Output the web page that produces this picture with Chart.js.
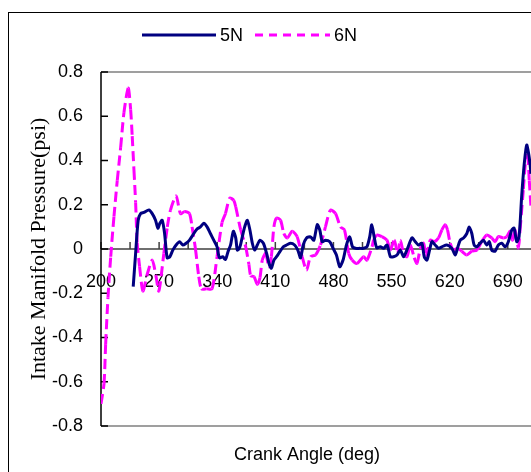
<!DOCTYPE html>
<html>
<head>
<meta charset="utf-8">
<script src="https://cdn.jsdelivr.net/npm/chart.js@4.4.1/dist/chart.umd.min.js"></script>
<style>
  html, body { margin: 0; padding: 0; background: #fff; overflow: hidden; }
  #frame { position: absolute; left: 8px; top: 12px; width: 600px; height: 500px;
           border-left: 1.5px solid #000; border-top: 1.5px solid #000; }
  #wrap { position: absolute; left: 0; top: 0; width: 531px; height: 472px; }
</style>
</head>
<body>
<div id="frame"></div>
<div id="wrap"><canvas id="chart"></canvas></div>
<script>
// Crank angle (deg) and intake manifold pressure (psi)
const angles5N = [238.8, 241.7, 244.8, 247.7, 251.7, 257.7, 261.7, 265.7, 268.5, 270.9,
  273.7, 276.6, 279.7, 282.9, 286.5, 290.5, 294.6, 298.6, 302.5, 306.6,
  310.6, 315.7, 319.8, 323.8, 327.8, 331.8, 335.8, 339.8, 342.7, 346.6,
  349.9, 353, 356.2, 359.4, 362.3, 364.3, 367.4, 370.2, 373.1, 376.3,
  379.4, 382.3, 385.1, 388.3, 391.5, 395.6, 399.5, 402.8, 405.2, 408.3,
  411.5, 415.5, 419.6, 423.6, 428.4, 433.2, 437.1, 440.4, 443.6, 447.6,
  452.4, 456.4, 460.5, 463.6, 466.5, 470.4, 475.6, 479.6, 483.6, 487.6,
  491.6, 495.7, 499.6, 502.9, 506.5, 511.6, 516.3, 520.4, 523.7, 526.2,
  529.3, 532.2, 536.5, 540.5, 544.6, 548.6, 552.4, 556.6, 560.6, 564.5,
  569.3, 574.6, 578.6, 582.6, 586.6, 589.4, 592.6, 595.8, 598.7, 602.6,
  606.6, 610.7, 616.7, 622.7, 626.7, 629.4, 632.7, 636.7, 640.7, 643.5,
  646.7, 649.5, 652.7, 656.7, 660.7, 664.6, 667.8, 670.7, 674.7, 678.7,
  682.8, 686.8, 690.7, 694.8, 697.6, 700.8, 703.6, 706.8, 710, 712.8,
  715.6, 718, 720];
const pressure5N = [-0.17, -0.02, 0.13, 0.16, 0.165, 0.176, 0.16, 0.13, 0.094, 0.116,
  0.13, 0.07, -0.04, -0.035, -0.005, 0.018, 0.033, 0.018, 0.026, 0.04,
  0.063, 0.09, 0.10, 0.116, 0.10, 0.07, 0.04, 0.01, -0.04, -0.035,
  -0.047, -0.012, 0.02, 0.08, 0.05, -0.005, 0.01, 0.055, 0.10, 0.13,
  0.086, 0.026, -0.005, 0.018, 0.04, 0.026, -0.02, -0.07, -0.087, -0.05,
  -0.035, -0.012, 0.01, 0.018, 0.026, 0.018, -0.005, -0.04, 0.018, 0.05,
  0.055, 0.04, 0.11, 0.086, 0.033, 0.04, 0.033, 0.003, -0.027, -0.08,
  -0.05, 0.018, 0.055, 0.01, 0.003, 0.003, 0.003, 0.01, 0.055, 0.11,
  0.05, 0.005, 0.01, 0.003, 0.018, -0.035, -0.035, -0.027, -0.005, -0.035,
  0.003, 0.05, 0.033, 0.018, 0.026, -0.035, -0.05, -0.005, 0.033, 0.018,
  0.003, 0.01, 0.018, 0.003, -0.027, 0.003, 0.04, 0.05, 0.07, 0.10,
  0.07, 0.018, 0.01, 0.026, 0.04, 0.018, 0.033, -0.005, -0.01, 0.018,
  0.026, 0.01, 0.033, 0.086, 0.094, 0.033, 0.055, 0.24, 0.39, 0.47,
  0.42, 0.34, 0.2];

const angles6N = [200, 203.6, 205.6, 208.4, 211.7, 215.6, 219.6, 223.7, 227.6, 232.8,
  235.7, 237.6, 239.7, 241.7, 243.6, 246.5, 250.5, 255.3, 261.7, 266.1,
  269.7, 275.7, 279.9, 283.7, 290.5, 295.7, 301, 306.6, 309.7, 313.8,
  317.8, 321, 327.4, 333.8, 339.8, 345.8, 349.9, 355, 359.9, 362.3,
  368.3, 374.3, 378.2, 380.3, 384.3, 388.3, 391.5, 394.3, 398.3, 402.3,
  405.2, 408.3, 411.5, 416.3, 420.3, 424.4, 430.4, 436.3, 442.3, 447.6,
  452.4, 458.4, 464.4, 470.4, 476.4, 482.5, 488.5, 493.3, 498.4, 502.5,
  508.4, 516.3, 520.4, 526.5, 528.4, 532.4, 538.4, 544.5, 548.5, 553.3,
  557.3, 560.6, 564.5, 568.6, 572.6, 577.4, 580.6, 584.6, 588.6, 591.8,
  596.6, 601.4, 606.6, 610.6, 614.6, 617.4, 620.7, 624.6, 629.4, 634.6,
  640.6, 646.7, 652.7, 658.6, 664.6, 670.7, 674.7, 678.7, 684.7, 688.8,
  692.8, 695.9, 698.8, 702.8, 704.8, 708.8, 712, 714, 715.9, 718, 720];
const pressure6N = [-0.70, -0.61, -0.43, -0.22, -0.035, 0.146, 0.31, 0.46, 0.615, 0.727,
  0.63, 0.51, 0.357, 0.21, 0.027, -0.08, -0.19, -0.12, -0.05, -0.12,
  -0.19, -0.02, 0.10, 0.176, 0.24, 0.16, 0.17, 0.16, 0.10, 0.0,
  -0.125, -0.18, -0.18, -0.18, -0.035, 0.12, 0.16, 0.23, 0.22, 0.19,
  0.086, 0.01, -0.07, -0.12, -0.125, -0.16, -0.13, -0.05, -0.02, -0.08,
  -0.035, 0.10, 0.14, 0.13, 0.07, 0.05, 0.08, 0.055, -0.035, -0.095,
  -0.035, -0.027, 0.018, 0.10, 0.176, 0.16, 0.10, 0.086, -0.02, -0.05,
  -0.065, -0.035, -0.05, 0.01, 0.04, 0.063, 0.056, 0.04, -0.005, 0.04,
  -0.02, 0.04, -0.02, -0.035, 0.018, -0.04, -0.065, 0, 0.026, -0.035,
  0.04, 0.033, 0.05, 0.086, 0.11, 0.086, 0.026, -0.005, 0.003, -0.01,
  -0.027, -0.01, -0.005, 0.033, 0.063, 0.05, 0.033, 0.056, 0.05, 0.056,
  0.08, 0.04, 0.086, 0.003, 0.086, 0.27, 0.42, 0.425, 0.31, 0.19, 0.08];

const xTicks = [200, 235, 270, 305, 340, 375, 410, 445, 480, 515, 550, 585, 620, 655, 690];
const xLabels = [200, 270, 340, 410, 480, 550, 620, 690];

const toPoints = (xs, ys) => xs.map((x, i) => ({ x, y: ys[i] }));

const sans = "'Liberation Sans', Arial, sans-serif";
Chart.defaults.font.family = sans;
Chart.defaults.color = '#000';

// Axis line, frame and inside tick marks (Excel style)
const framePlugin = {
  id: 'frame',
  beforeDatasetsDraw(chart) {
    const { ctx, chartArea: a, scales: { x, y } } = chart;
    ctx.save();
    ctx.lineWidth = 1.5;
    ctx.strokeStyle = '#808080';
    ctx.beginPath();
    ctx.moveTo(a.left, a.top); ctx.lineTo(a.right + 2, a.top);
    ctx.moveTo(a.left, a.bottom); ctx.lineTo(a.right + 2, a.bottom);
    ctx.stroke();

    const y0 = y.getPixelForValue(0);
    ctx.strokeStyle = '#404040';
    ctx.beginPath();
    ctx.moveTo(a.left, y0); ctx.lineTo(a.right + 2, y0);
    x.ticks.forEach(t => {
      const px = x.getPixelForValue(t.value);
      ctx.moveTo(px, y0); ctx.lineTo(px, y0 - 7);
    });
    ctx.stroke();

    ctx.strokeStyle = '#000';
    ctx.beginPath();
    ctx.moveTo(a.left, a.top); ctx.lineTo(a.left, a.bottom);
    y.ticks.forEach(t => {
      const py = y.getPixelForValue(t.value);
      ctx.moveTo(a.left, py); ctx.lineTo(a.left + 7, py);
    });
    ctx.stroke();
    ctx.restore();
  },
  afterDraw(chart) {
    const { ctx } = chart;
    ctx.save();
    ctx.font = '18px ' + sans;
    ctx.fillStyle = '#000';
    ctx.textBaseline = 'middle';
    ctx.textAlign = 'center';
    ctx.fillText('Crank Angle (deg)', 307, 455);

    // legend across the top
    const slots = [{ x0: 142, x1: 216 }, { x0: 255, x1: 330 }];
    ctx.textAlign = 'left';
    chart.data.datasets.forEach((ds, i) => {
      const s = slots[i];
      ctx.strokeStyle = ds.borderColor;
      ctx.lineWidth = ds.borderWidth;
      ctx.setLineDash(i ? [8, 6] : []);
      ctx.beginPath();
      ctx.moveTo(s.x0, 35); ctx.lineTo(s.x1, 35);
      ctx.stroke();
      ctx.setLineDash([]);
      ctx.fillText(ds.label, s.x1 + 4, 36);
    });
    ctx.restore();
  }
};

new Chart(document.getElementById('chart'), {
  type: 'line',
  data: {
    datasets: [
      {
        label: '5N',
        data: toPoints(angles5N, pressure5N),
        borderColor: '#000080',
        borderWidth: 3,
        pointRadius: 0,
        tension: 0.25
      },
      {
        label: '6N',
        data: toPoints(angles6N, pressure6N),
        borderColor: '#ff00ff',
        borderWidth: 3,
        borderDash: [10, 5],
        pointRadius: 0,
        tension: 0.25,
        // restart the dash on every segment, like Excel does
        segment: { borderDashOffset: c => (c.p0DataIndex % 2 ? 0 : 0.001) }
      }
    ]
  },
  options: {
    responsive: true,
    maintainAspectRatio: false,
    animation: false,
    layout: { padding: { top: 72, bottom: 46, left: 0, right: 0 } },
    plugins: {
      legend: { display: false },
      tooltip: { enabled: false }
    },
    scales: {
      x: {
        type: 'linear',
        position: { y: 0 },
        min: 200,
        max: 718,
        afterBuildTicks: s => { s.ticks = xTicks.map(v => ({ value: v })); },
        afterFit: s => { s.paddingLeft = 0; s.paddingRight = 0; },
        grid: { display: false, drawTicks: false },
        border: { display: false },
        ticks: {
          padding: 22,
          autoSkip: false,
          maxRotation: 0,
          font: { size: 18 },
          callback: v => (xLabels.includes(v) ? String(v) : '')
        }
      },
      y: {
        min: -0.8,
        max: 0.8,
        afterFit: s => { s.width = 101; },
        grid: { display: false, drawTicks: false },
        border: { display: false },
        ticks: {
          stepSize: 0.2,
          padding: 18,
          font: { size: 18 },
          callback: v => (Math.abs(v) < 1e-9 ? '0' : Number(v.toFixed(1)).toString())
        },
        title: {
          display: true,
          text: 'Intake Manifold Pressure(psi)',
          font: { family: "'Liberation Serif', 'Times New Roman', serif", size: 22, lineHeight: 1.2 },
          padding: { top: 26, bottom: 0 }
        }
      }
    }
  },
  plugins: [framePlugin]
});
</script>
</body>
</html>
